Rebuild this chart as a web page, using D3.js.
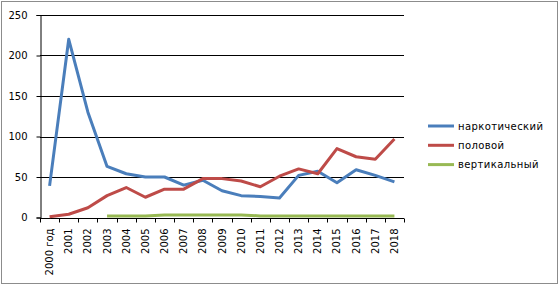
<!DOCTYPE html>
<html>
<head>
<meta charset="utf-8">
<script src="https://cdn.jsdelivr.net/npm/d3@7"></script>
<style>
body{margin:0;background:#fff;}
svg{font-family:"DejaVu Sans",Verdana,sans-serif;font-size:10px;}
</style>
</head>
<body>
<div id="chart"></div>
<script>
// categories and series
var years=["2000 год","2001","2002","2003","2004","2005","2006","2007","2008","2009",
	"2010","2011","2012","2013","2014","2015","2016","2017","2018"];
var narcotic=[39,220,130,63,54,50,50,40,46,33,27,26,24,52,57,43,59,52,44];
var sexual=[1,4,12,27,37,25,35,35,48,48,45,38,51,60,54,85,75,72,97];
var vertical=[null,null,null,2,2,2,3,3,3,3,3,2,2,2,2,2,2,2,2];
var yTicks=[0,50,100,150,200,250];
var seriesNames=["наркотический","половой","вертикальный"];
var seriesColors=["#4a7ebb","#be4b48","#98b954"];

var width=560, height=286;
// plot area (note: "top" is taken by window.top, so use other names)
var plotLeft=40, plotRight=404, plotTop=15, plotBottom=217.5;

var svg=d3.select("#chart").append("svg").attr("width",width).attr("height",height);

// chart frame
svg.append("rect").attr("x",1.5).attr("y",1.5).attr("width",556).attr("height",282)
	.attr("fill","#fff").attr("stroke","#8c8c8c").attr("stroke-width",1);

var x=d3.scaleBand().domain(years).range([plotLeft,plotRight]).padding(0);
var y=d3.scaleLinear().domain([0,250]).range([plotBottom,plotTop]);

// gridlines
svg.append("g").selectAll("line").data(yTicks.slice(1)).enter().append("line")
	.attr("x1",plotLeft).attr("x2",plotRight)
	.attr("y1",function(d){return Math.round(y(d))+0.5;})
	.attr("y2",function(d){return Math.round(y(d))+0.5;})
	.attr("stroke","#000");

// value axis
var yAxis=svg.append("g").attr("transform","translate("+(plotLeft+0.5)+",0)")
	.call(d3.axisLeft(y).tickValues(yTicks).tickSize(4).tickPadding(9));
yAxis.select(".domain").attr("stroke","#000");
yAxis.selectAll("text").attr("font-size",10).attr("fill","#000")
	.attr("font-family","DejaVu Sans");

// category axis, ticks between categories
var xAxis=svg.append("g").attr("transform","translate(0,"+(Math.round(plotBottom)+0.5)+")");
xAxis.append("line").attr("x1",plotLeft).attr("x2",plotRight).attr("stroke","#000");
var bounds=years.map(function(d){return x(d);}).concat([plotRight]);
xAxis.selectAll(".tk").data(bounds).enter().append("line")
	.attr("x1",function(d){return Math.round(d)+0.5;})
	.attr("x2",function(d){return Math.round(d)+0.5;})
	.attr("y1",0).attr("y2",4).attr("stroke","#000");
xAxis.selectAll(".lbl").data(years).enter().append("text")
	.attr("transform",function(d){return "translate("+(x(d)+x.bandwidth()/2)+",10) rotate(-90)";})
	.attr("text-anchor","end").attr("dy","0.35em").attr("fill","#000")
	.text(function(d){return d;});

// lines
var line=d3.line()
	.defined(function(d){return d!=null;})
	.x(function(d,i){return x(years[i])+x.bandwidth()/2;})
	.y(function(d){return y(d);});
[narcotic,sexual,vertical].forEach(function(s,i){
	svg.append("path").datum(s).attr("d",line)
		.attr("fill","none").attr("stroke",seriesColors[i])
		.attr("stroke-width",3).attr("stroke-linejoin","round");
});

// legend
var legend=svg.append("g").selectAll("g").data(seriesNames).enter().append("g")
	.attr("transform",function(d,i){return "translate(428,"+(126+i*19.3)+")";});
legend.append("line").attr("x1",0).attr("x2",26).attr("y1",0).attr("y2",0)
	.attr("stroke",function(d,i){return seriesColors[i];}).attr("stroke-width",3);
legend.append("text").attr("x",30).attr("dy","0.35em").attr("fill","#000")
	.style("letter-spacing","0.4px")
	.text(function(d){return d;});
</script>
</body>
</html>
